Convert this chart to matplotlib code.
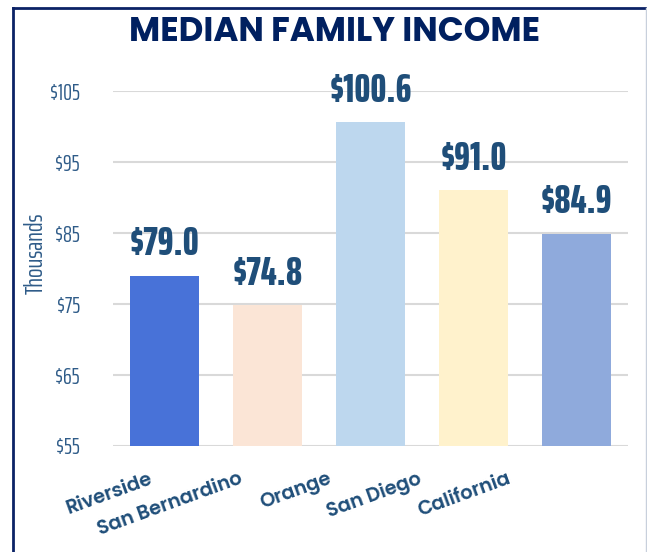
import matplotlib
matplotlib.use('Agg')
from matplotlib import pyplot as plt
from matplotlib import font_manager as fm
from matplotlib.lines import Line2D

counties = ['Riverside', 'San Bernardino', 'Orange', 'San Diego', 'California']
income = [79.0, 74.8, 100.6, 91.0, 84.9]
bar_colors = ['#4872D8', '#FBE5D6', '#BDD7EE', '#FFF2CC', '#8FAADC']
yticks = [55, 65, 75, 85, 95, 105]

narrow = ['Saira ExtraCondensed', 'DejaVu Sans']
label_col = '#1F4E79'


def pick_bold(cands):
    # first family that really has a bold face
    for fam in cands:
        try:
            p = fm.findfont(fm.FontProperties(family=fam, weight='bold'),
                            fallback_to_default=False)
        except ValueError:
            continue
        if 'bold' in p.lower():
            return fam
    return 'Lato'


gothic = [pick_bold(['Poppins', 'Mulish', 'Lato']), 'DejaVu Sans']


def fit_width(txt, target_px, renderer):
    # scale font so the unrotated text is target_px wide
    rot = txt.get_rotation()
    txt.set_rotation(0)
    w = txt.get_window_extent(renderer).width
    txt.set_fontsize(txt.get_fontsize() * target_px / w)
    txt.set_rotation(rot)


fig = plt.figure(figsize=(6.47, 5.52), dpi=100)
ax = fig.add_axes([113 / 647, 1 - 446 / 552, 515 / 647, 355 / 552])

x = list(range(len(counties)))
ax.bar(x, income, width=0.67, color=bar_colors, zorder=2)
ax.set_xlim(-0.5, len(counties) - 0.5)
ax.set_ylim(55, 105)

ax.set_yticks(yticks)
ax.set_yticklabels(['$%d' % v for v in yticks], family=narrow, fontsize=16,
                   color='#2E5B88')
ax.tick_params(axis='y', length=0, pad=24)
ax.grid(axis='y', color='#D9D9D9', linewidth=1.5, zorder=0)
for s in ax.spines.values():
    s.set_visible(False)
ax.set_xticks([])
fig.text(36 / 647, 1 - 253 / 552, 'Thousands', rotation=90, ha='center',
         va='center', family=narrow, fontsize=18, color='#2E5B88')

# value labels above bars
for i, v in enumerate(income):
    ax.annotate('$%.1f' % v, (i, v), xytext=(0, 9), textcoords='offset points',
                ha='center', va='bottom', family=narrow, fontweight=800,
                fontsize=29, color=label_col, clip_on=False)

# category labels, staggered like the original
cat_txt = []
for i, name in enumerate(counties):
    t = ax.annotate(name, (i * 0.868 - 0.15, 55), xytext=(0, -17),
                    textcoords='offset points', ha='right', va='top',
                    rotation=20, rotation_mode='anchor', family=gothic,
                    fontweight='semibold', fontsize=13, color=label_col,
                    annotation_clip=False)
    cat_txt.append(t)

title = fig.text(334 / 647, 1 - 33 / 552, 'MEDIAN FAMILY INCOME', ha='center',
                 va='center', family=gothic, fontweight='bold', fontsize=20,
                 color='#002060')

fig.canvas.draw()
r = fig.canvas.get_renderer()
fit_width(title, 412, r)
fit_width(cat_txt[1], 153, r)
for t in cat_txt:
    t.set_fontsize(cat_txt[1].get_fontsize())

# frame
fig.add_artist(Line2D([12.5 / 647, 12.5 / 647], [0, 1 - 7.5 / 552],
                      color='#0B2266', linewidth=2, transform=fig.transFigure))
fig.add_artist(Line2D([12.5 / 647, 645 / 647], [1 - 7.5 / 552, 1 - 7.5 / 552],
                      color='#0B2266', linewidth=2, transform=fig.transFigure))
fig.add_artist(Line2D([645.5 / 647, 645.5 / 647], [0, 1 - 7.5 / 552],
                      color='#C8D0DC', linewidth=1, transform=fig.transFigure))

fig.savefig('out.png', dpi=100)
